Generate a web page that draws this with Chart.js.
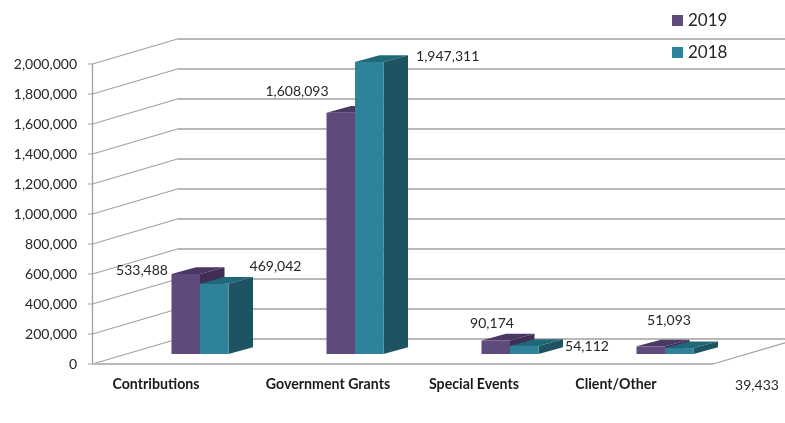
<!DOCTYPE html>
<html><head><meta charset="utf-8">
<style>html,body{margin:0;padding:0;background:#fff}canvas{display:block;filter:blur(0.55px)}</style>
<script src="https://cdn.jsdelivr.net/npm/chart.js@4"></script>
</head><body><canvas id="c" width="785" height="423"></canvas>
<script>
const categories = ["Contributions", "Government Grants", "Special Events", "Client/Other"];
const series2019 = [533488, 1608093, 90174, 51093];
const series2018 = [469042, 1947311, 54112, 39433];
const seriesNames = ["2019", "2018"];
const axisMax = 2000000;
const axisStep = 200000;

const FONT = "Lato";
const TEXT = "#262626";
const GRID_BACK = "#b8b8b8";
const GRID_SIDE = "#a0a0a0";
const FACES = [
  {front: "#5f4a7c", top: "#4a3763", side: "#402e57"},
  {front: "#2e8299", top: "#1f6878", side: "#1e5462"}
];
const DEPTH = {dx: 24.5, dy: -6.7};      // bar depth
const WALL = {dx: 85, dy: -25};          // chart-box depth
const BAR_LIFT = 10;                     // bars stand inside the floor
const AXIS_X = 92.5;
const FLOOR_END = 713;
// label placement relative to each bar's centre-top / each category
const categoryShift = [-44, -27, -36, -49];
const valueShift2019 = [[-43.75, -3.3], [-43.75, -21], [-3.75, -16.5], [18.25, -25.6]];
const valueShift2018 = [[61.25, -17.6], [78.4, -5.3], [62.75, 1.1], [77.75, 36.9]];

function fmt(v){ return v.toLocaleString("en-US"); }

function drawDepth(c, bar, f){
  const l = bar.x - bar.width / 2, r = bar.x + bar.width / 2, t = bar.y, s = bar.base;
  c.fillStyle = f.top;
  c.beginPath(); c.moveTo(l, t); c.lineTo(l + DEPTH.dx, t + DEPTH.dy); c.lineTo(r + DEPTH.dx, t + DEPTH.dy); c.lineTo(r, t); c.closePath(); c.fill();
  c.fillStyle = f.side;
  c.beginPath(); c.moveTo(r, t); c.lineTo(r + DEPTH.dx, t + DEPTH.dy); c.lineTo(r + DEPTH.dx, s + DEPTH.dy); c.lineTo(r, s); c.closePath(); c.fill();
}

const scene = {
  id: "scene",
  beforeDatasetsDraw(chart){
    const c = chart.ctx, y = chart.scales.y, W = chart.width;
    c.save();
    y.ticks.forEach(t => {
      const py = y.getPixelForValue(t.value);
      c.strokeStyle = GRID_SIDE; c.lineWidth = 1.1;
      c.beginPath(); c.moveTo(AXIS_X - 4.5, py); c.lineTo(AXIS_X, py); c.lineTo(AXIS_X + WALL.dx, py + WALL.dy); c.stroke();
      c.strokeStyle = GRID_BACK; c.lineWidth = 1.8;
      c.beginPath(); c.moveTo(AXIS_X + WALL.dx, py + WALL.dy); c.lineTo(W, py + WALL.dy); c.stroke();
    });
    c.strokeStyle = GRID_SIDE; c.lineWidth = 1.3;
    c.beginPath(); c.moveTo(AXIS_X, y.top); c.lineTo(AXIS_X, y.bottom); c.stroke();
    const y0 = y.getPixelForValue(0);
    c.strokeStyle = GRID_BACK; c.lineWidth = 1.8;
    c.beginPath(); c.moveTo(AXIS_X, y0); c.lineTo(FLOOR_END, y0); c.stroke();
    c.strokeStyle = GRID_SIDE; c.lineWidth = 1.1;
    c.beginPath(); c.moveTo(FLOOR_END, y0); c.lineTo(W, y0 + (W - FLOOR_END) * WALL.dy / WALL.dx); c.stroke();
    c.restore();
  },
  // bars are painted below, front series first, so the depth faces overlap correctly
  beforeDatasetDraw(){ return false; },
  afterDatasetsDraw(chart){
    const c = chart.ctx;
    c.save();
    c.translate(0, -BAR_LIFT);
    chart.data.datasets.forEach((d, i) => {
      const bars = chart.getDatasetMeta(i).data;
      bars.forEach(b => drawDepth(c, b, FACES[i]));
      bars.forEach(b => b.draw(c));
    });
    c.restore();
    c.save();
    c.textBaseline = "middle";
    c.font = "14px " + FONT; c.fillStyle = TEXT; c.textAlign = "center";
    [valueShift2019, valueShift2018].forEach((shift, i) => {
      chart.getDatasetMeta(i).data.forEach((b, j) => {
        c.fillText(fmt(chart.data.datasets[i].data[j]), b.x + shift[j][0], b.y - BAR_LIFT + shift[j][1]);
      });
    });
    const x = chart.scales.x;
    c.font = "bold 14.2px " + FONT; c.fillStyle = "#1a1a1a";
    categories.forEach((name, i) => c.fillText(name, x.getPixelForTick(i) + categoryShift[i], 384));
    c.font = "17px " + FONT; c.textAlign = "left";
    chart.data.datasets.forEach((d, i) => {
      const cy = 20.5 + i * 32;
      c.fillStyle = d.backgroundColor;
      c.fillRect(672, cy - 5.5, 11, 11);
      c.fillStyle = TEXT;
      c.fillText(d.label, 688, cy);
    });
    c.restore();
  }
};

new Chart(document.getElementById("c"), {
  type: "bar",
  data: {
    labels: categories,
    datasets: [
      {label: seriesNames[0], data: series2019, backgroundColor: FACES[0].front},
      {label: seriesNames[1], data: series2018, backgroundColor: FACES[1].front}
    ]
  },
  options: {
    responsive: false,
    animation: false,
    layout: {padding: {top: 64, bottom: 59, left: 0, right: 42.5}},
    categoryPercentage: 0.3677,
    barPercentage: 1,
    plugins: {legend: {display: false}, tooltip: {enabled: false}},
    scales: {
      x: {
        afterFit(s){ s.height = 0; },
        grid: {display: false}, border: {display: false},
        ticks: {display: false}
      },
      y: {
        min: 0, max: axisMax,
        afterFit(s){ s.width = 122.5; },
        grid: {display: false, drawTicks: false}, border: {display: false},
        ticks: {
          stepSize: axisStep, padding: 45.5, color: TEXT,
          font: {family: FONT, size: 14},
          callback: v => fmt(v)
        }
      }
    }
  },
  plugins: [scene]
});
</script></body></html>
